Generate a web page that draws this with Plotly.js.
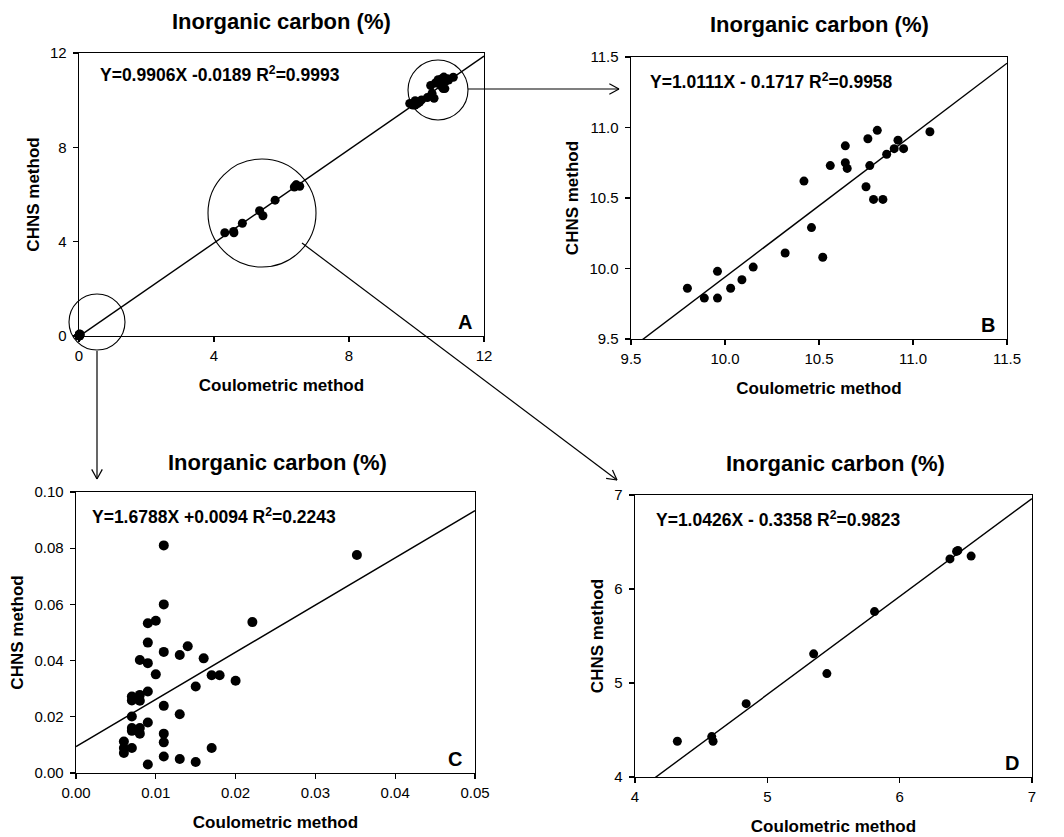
<!DOCTYPE html>
<html>
<head>
<meta charset="utf-8">
<script src="https://cdn.plot.ly/plotly-3.0.1.min.js"></script>
<style>html,body{margin:0;padding:0;background:#fff;}#chart{width:1064px;height:837px;}</style>
</head>
<body>
<div id="chart"></div>
<script>
// ---- Data ----
// Panel B: high-carbon samples (Coulometric vs CHNS)
const bX = [9.80, 9.89, 9.96, 9.96, 10.03, 10.09, 10.15, 10.32, 10.42, 10.46, 10.52, 10.56, 10.64, 10.64, 10.65, 10.75, 10.76, 10.77, 10.79, 10.81, 10.84, 10.86, 10.90, 10.92, 10.95, 11.09];
const bY = [9.86, 9.79, 9.79, 9.98, 9.86, 9.92, 10.01, 10.11, 10.62, 10.29, 10.08, 10.73, 10.87, 10.75, 10.71, 10.58, 10.92, 10.73, 10.49, 10.98, 10.49, 10.81, 10.85, 10.91, 10.85, 10.97];
// Panel C: low-carbon samples
const cX = [0.011, 0.0352, 0.011, 0.0221, 0.009, 0.010, 0.009, 0.011, 0.014, 0.013, 0.016, 0.008, 0.009, 0.010, 0.017, 0.018, 0.020, 0.015, 0.007, 0.007, 0.008, 0.008, 0.009, 0.011, 0.013, 0.007, 0.009, 0.007, 0.008, 0.008, 0.007, 0.011, 0.011, 0.006, 0.006, 0.006, 0.007, 0.017, 0.011, 0.013, 0.015, 0.009];
const cY = [0.081, 0.0776, 0.060, 0.0537, 0.0533, 0.0542, 0.0464, 0.0431, 0.0451, 0.042, 0.0408, 0.0402, 0.0391, 0.0351, 0.0348, 0.0348, 0.0328, 0.0308, 0.0272, 0.0258, 0.0278, 0.0257, 0.029, 0.0239, 0.0209, 0.0201, 0.018, 0.016, 0.016, 0.014, 0.015, 0.014, 0.0109, 0.0112, 0.0089, 0.0071, 0.0089, 0.0089, 0.0059, 0.005, 0.0039, 0.003];
// Panel D: intermediate samples
const dX = [4.32, 4.58, 4.59, 4.84, 5.35, 5.45, 5.81, 6.38, 6.43, 6.44, 6.54];
const dY = [4.38, 4.43, 4.38, 4.78, 5.31, 5.10, 5.76, 6.32, 6.40, 6.41, 6.35];
// Panel A: all samples
const aX = cX.concat(dX, bX);
const aY = cY.concat(dY, bY);

// Regression results (A, B, C, D)
const panelLetters = ['A', 'B', 'C', 'D'];
const slopes = [0.9906, 1.0111, 1.6788, 1.0426];
const intercepts = [-0.0189, -0.1717, 0.0094, -0.3358];
const equations = [
  'Y=0.9906X -0.0189 R<sup>2</sup>=0.9993',
  'Y=1.0111X - 0.1717 R<sup>2</sup>=0.9958',
  'Y=1.6788X +0.0094 R<sup>2</sup>=0.2243',
  'Y=1.0426X - 0.3358 R<sup>2</sup>=0.9823'
];
const chartTitle = 'Inorganic carbon (%)';
const xTitle = 'Coulometric method';
const yTitle = 'CHNS method';

const xRanges = [[0, 12], [9.5, 11.5], [0, 0.05], [4, 7]];
const yRanges = [[0, 12], [9.5, 11.5], [0, 0.10], [4, 7]];
const xDticks = [4, 0.5, 0.01, 1];
const yDticks = [4, 0.5, 0.02, 1];
const xFormats = ['', '.1f', '.2f', ''];
const yFormats = ['', '.1f', '.2f', ''];

// ---- Layout helpers ----
const W = 1064, H = 837;
const px = v => v / W;
const py = v => 1 - v / H;
const FONT = 'Arial, "Liberation Sans", Helvetica, sans-serif';

// plot boxes in pixels: [left, right, top, bottom]
const boxes = [
  [79, 484, 53, 336],
  [631, 1007, 57, 339],
  [76, 475, 492, 773],
  [635, 1032, 495, 777]
];
const titlePos = [[281, 22], [819, 24], [277, 462], [835, 463]];
const eqPos = [[98, 74], [648, 81], [90, 516], [654, 519]];
const letterPos = [[465, 322], [988, 325], [455, 759], [1012, 763]];
const markerSizes = [9, 9, 10, 9];

const xs = [aX, bX, cX, dX];
const ys = [aY, bY, cY, dY];

const traces = [];
const layout = {
  width: W, height: H,
  margin: {l: 0, r: 0, t: 0, b: 0},
  paper_bgcolor: '#fff', plot_bgcolor: '#fff',
  showlegend: false,
  font: {family: FONT, color: '#000'},
  annotations: [], shapes: []
};

for (let i = 0; i < 4; i++) {
  const sfx = i === 0 ? '' : String(i + 1);
  const xa = 'x' + sfx, ya = 'y' + sfx;
  // regression line
  const lx = xRanges[i];
  traces.push({
    type: 'scatter', mode: 'lines', xaxis: xa, yaxis: ya,
    x: lx, y: lx.map(v => slopes[i] * v + intercepts[i]),
    line: {color: '#000', width: 1.4}, hoverinfo: 'skip'
  });
  // points
  traces.push({
    type: 'scatter', mode: 'markers', xaxis: xa, yaxis: ya,
    x: xs[i], y: ys[i], cliponaxis: false,
    marker: {color: '#000', size: markerSizes[i], line: {width: 0}}
  });
  const b = boxes[i];
  const axCommon = {
    showgrid: false, zeroline: false, showline: true, mirror: true,
    linecolor: '#000', linewidth: 1.4,
    ticks: 'outside', ticklen: 5, tickwidth: 1.3, tickcolor: '#000',
    tickfont: {family: FONT, size: 15, color: '#000'}
  };
  layout['xaxis' + sfx] = Object.assign({}, axCommon, {
    domain: [px(b[0]), px(b[1])], anchor: ya, range: xRanges[i],
    dtick: xDticks[i], tick0: xRanges[i][0], tickformat: xFormats[i],
    ticklabelstandoff: 1,
    title: {text: '<b>' + xTitle + '</b>', font: {family: FONT, size: 17, color: '#000'}, standoff: 15}
  });
  layout['yaxis' + sfx] = Object.assign({}, axCommon, {
    domain: [py(b[3]), py(b[2])], anchor: xa, range: yRanges[i],
    dtick: yDticks[i], tick0: yRanges[i][0], tickformat: yFormats[i],
    ticklabelstandoff: 3,
    title: {text: '<b>' + yTitle + '</b>', font: {family: FONT, size: 17, color: '#000'}, standoff: 6}
  });
  layout.annotations.push({
    xref: 'paper', yref: 'paper', x: px(titlePos[i][0]), y: py(titlePos[i][1]),
    xanchor: 'center', yanchor: 'middle', showarrow: false,
    text: '<b>' + chartTitle + '</b>', font: {family: FONT, size: 22, color: '#000'}
  });
  layout.annotations.push({
    xref: 'paper', yref: 'paper', x: px(eqPos[i][0]), y: py(eqPos[i][1]),
    xanchor: 'left', yanchor: 'middle', showarrow: false,
    text: '<b>' + equations[i] + '</b>', font: {family: FONT, size: 17.5, color: '#000'}
  });
  layout.annotations.push({
    xref: 'paper', yref: 'paper', x: px(letterPos[i][0]), y: py(letterPos[i][1]),
    xanchor: 'center', yanchor: 'middle', showarrow: false,
    text: '<b>' + panelLetters[i] + '</b>', font: {family: FONT, size: 20, color: '#000'}
  });
}

// Zoom circles in panel A (pixel boxes)
const circles = [[408, 468, 60, 120], [208, 316, 159, 267], [69, 125, 294, 350]];
circles.forEach(c => layout.shapes.push({
  type: 'circle', xref: 'paper', yref: 'paper',
  x0: px(c[0]), x1: px(c[1]), y0: py(c[3]), y1: py(c[2]),
  line: {color: '#000', width: 1.1}, fillcolor: 'rgba(0,0,0,0)'
}));

// Arrows drawn as line shapes: [tipX, tipY, tailX, tailY] in pixels
const arrows = [[619, 89, 468, 89], [617, 480, 302, 243], [97, 479, 97, 351]];
function seg(x0, y0, x1, y1) {
  layout.shapes.push({
    type: 'line', xref: 'paper', yref: 'paper',
    x0: px(x0), y0: py(y0), x1: px(x1), y1: py(y1),
    line: {color: '#000', width: 1.2}
  });
}
arrows.forEach(a => {
  const [tx, ty, sx, sy] = a;
  seg(sx, sy, tx, ty);
  const ang = Math.atan2(sy - ty, sx - tx);
  const L = 11, half = 0.5;
  [ang - half, ang + half].forEach(t => seg(tx, ty, tx + L * Math.cos(t), ty + L * Math.sin(t)));
});

Plotly.newPlot('chart', traces, layout, {staticPlot: true, displayModeBar: false});
</script>
</body>
</html>
